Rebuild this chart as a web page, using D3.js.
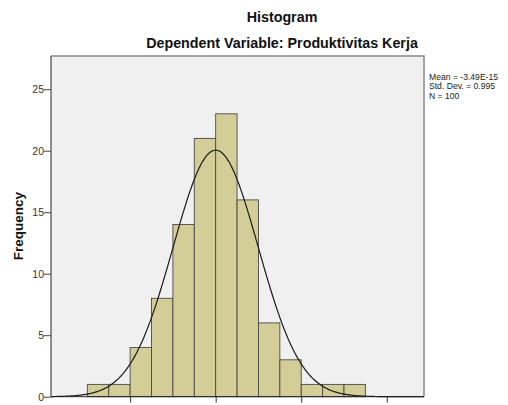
<!DOCTYPE html>
<html><head><meta charset="utf-8">
<script src="https://cdn.jsdelivr.net/npm/d3@7"></script>
<style>body{margin:0;background:#fff}svg{display:block}</style>
</head><body>
<svg id="c" width="508" height="405"></svg>
<script>
const binStarts = [-3.0,-2.5,-2.0,-1.5,-1.0,-0.5,0.0,0.5,1.0,1.5,2.0,2.5,3.0];
const binWidth = 0.5;
const counts = [1,1,4,8,14,21,23,16,6,3,1,1,1];
const yTicks = [0,5,10,15,20,25];
const xTicks = [-2,0,2,4];
const statMean = -3.49e-15, statSd = 0.995, statN = 100;
const statLabels = ["Mean = -3.49E-15","Std. Dev. = 0.995","N = 100"];

const svg = d3.select("#c");
const L=51, R=424, T=56, B=396.7;
const x = d3.scaleLinear().domain([-3.85,4.87]).range([L,R]);
const y = d3.scaleLinear().domain([0,27.7]).range([B,T]);
const font = "'Liberation Sans', Arial, sans-serif";

svg.append("rect").attr("x",L).attr("y",T).attr("width",R-L).attr("height",B-T).attr("fill","#f0f0f0");

svg.selectAll("rect.bar").data(counts).enter().append("rect").attr("class","bar")
  .attr("x",(d,i)=>x(binStarts[i])).attr("width",(d,i)=>x(binStarts[i]+binWidth)-x(binStarts[i]))
  .attr("y",d=>y(d)).attr("height",d=>B-y(d))
  .attr("fill","#d3ce97").attr("stroke","#4a4a4a").attr("stroke-width",0.9);

const pts = d3.range(-3.85,4.871,0.02).map(v=>[v, statN*binWidth*Math.exp(-0.5*((v-statMean)/statSd)**2)/(statSd*Math.sqrt(2*Math.PI))]);
svg.append("path").datum(pts).attr("fill","none").attr("stroke","#1a1a1a").attr("stroke-width",1.2)
  .attr("d",d3.line().x(d=>x(d[0])).y(d=>y(d[1])).curve(d3.curveBasis));

// frame
svg.append("path").attr("d",`M${L},${T}H${R}V${B}`).attr("fill","none").attr("stroke","#888").attr("stroke-width",1.5);

const ya = svg.append("g").attr("transform",`translate(${L},0)`)
  .call(d3.axisLeft(y).tickValues(yTicks).tickSize(7).tickPadding(0));
ya.select(".domain").attr("stroke","#222").attr("d",`M0,${T}V${B}`);
ya.selectAll("line").attr("stroke","#444");
ya.selectAll("text").attr("font-family",font).attr("font-size",10.5).attr("fill","#333");

const xa = svg.append("g").attr("transform",`translate(0,${B})`)
  .call(d3.axisBottom(x).tickValues(xTicks).tickSize(6).tickFormat(""));
xa.select(".domain").attr("stroke","#222").attr("d",`M${L},0H${R}`);
xa.selectAll("line").attr("stroke","#333");

svg.append("text").attr("x",282).attr("y",22).attr("text-anchor","middle")
  .attr("font-family",font).attr("font-weight","bold").attr("font-size",14.3).attr("fill","#111").text("Histogram");
svg.append("text").attr("x",282).attr("y",48).attr("text-anchor","middle")
  .attr("font-family",font).attr("font-weight","bold").attr("font-size",14.3).attr("fill","#111").text("Dependent Variable: Produktivitas Kerja");
svg.append("text").attr("transform",`translate(23,226) rotate(-90)`).attr("text-anchor","middle")
  .attr("font-family",font).attr("font-weight","bold").attr("font-size",13.5).attr("fill","#111").text("Frequency");

svg.append("g").selectAll("text").data(statLabels).enter().append("text")
  .attr("x",429).attr("y",(d,i)=>80+i*9.4).attr("font-family",font).attr("font-size",8.6).attr("fill","#222").text(d=>d);
</script>
</body></html>
